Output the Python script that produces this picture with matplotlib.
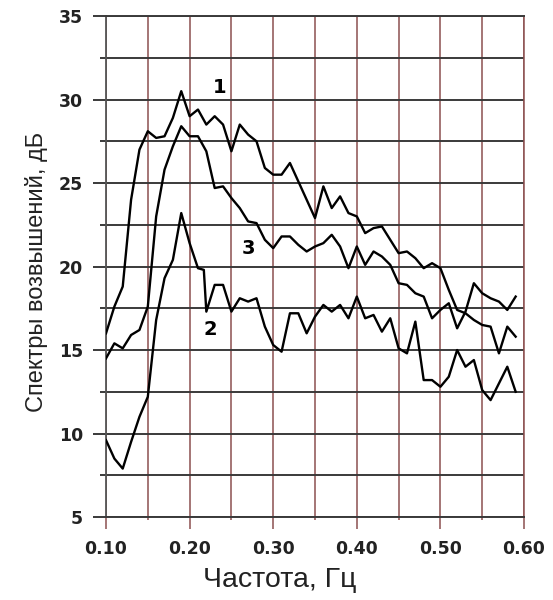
import matplotlib.pyplot as plt
from matplotlib.ticker import MultipleLocator, FixedLocator

# frequencies, Hz
freq = [0.10, 0.11, 0.12, 0.13, 0.14, 0.15, 0.16, 0.17, 0.18, 0.19,
        0.20, 0.21, 0.22, 0.23, 0.24, 0.25, 0.26, 0.27, 0.28, 0.29,
        0.30, 0.31, 0.32, 0.33, 0.34, 0.35, 0.36, 0.37, 0.38, 0.39,
        0.40, 0.41, 0.42, 0.43, 0.44, 0.45, 0.46, 0.47, 0.48, 0.49,
        0.50, 0.51, 0.52, 0.53, 0.54, 0.55, 0.56, 0.57, 0.58, 0.59]

# curve 1 (top)
spec1 = [16.0, 17.6, 18.8, 24.0, 27.0, 28.1, 27.7, 27.8, 28.9, 30.5,
         29.0, 29.4, 28.5, 29.0, 28.5, 26.9, 28.5, 27.9, 27.5, 25.9,
         25.5, 25.5, 26.2, 25.1, 24.0, 22.9, 24.8, 23.5, 24.2, 23.2,
         23.0, 22.0, 22.3, 22.4, 21.6, 20.8, 20.9, 20.5, 19.9, 20.2,
         19.9, 18.6, 17.4, 17.2, 16.8, 16.5, 16.4, 14.8, 16.4, 15.8]

# curve 3 (middle)
spec3 = [14.5, 15.4, 15.1, 15.9, 16.2, 17.6, 23.0, 25.8, 27.2, 28.4,
         27.8, 27.8, 26.9, 24.7, 24.8, 24.1, 23.5, 22.7, 22.6, 21.6,
         21.1, 21.8, 21.8, 21.3, 20.9, 21.2, 21.4, 21.9, 21.2, 19.9,
         21.2, 20.1, 20.9, 20.6, 20.1, 19.0, 18.9, 18.4, 18.2, 16.9,
         17.4, 17.8, 16.3, 17.3, 19.0, 18.4, 18.1, 17.9, 17.4, 18.2]

# curve 2 (bottom), has one extra point before the drop near 0.22
freq2 = [0.10, 0.11, 0.12, 0.13, 0.14, 0.15, 0.16, 0.17, 0.18, 0.19,
         0.20, 0.21, 0.217, 0.22, 0.23, 0.24, 0.25, 0.26, 0.27, 0.28, 0.29,
         0.30, 0.31, 0.32, 0.33, 0.34, 0.35, 0.36, 0.37, 0.38, 0.39,
         0.40, 0.41, 0.42, 0.43, 0.44, 0.45, 0.46, 0.47, 0.48, 0.49,
         0.50, 0.51, 0.52, 0.53, 0.54, 0.55, 0.56, 0.57, 0.58, 0.59]
spec2 = [9.6, 8.5, 7.9, 9.5, 11.0, 12.2, 16.8, 19.3, 20.4, 23.2,
         21.4, 19.9, 19.8, 17.3, 18.9, 18.9, 17.3, 18.1, 17.9, 18.1, 16.4,
         15.3, 14.9, 17.2, 17.2, 16.0, 17.0, 17.7, 17.3, 17.7, 16.9,
         18.2, 16.9, 17.1, 16.1, 16.9, 15.1, 14.8, 16.7, 13.2, 13.2,
         12.8, 13.4, 15.0, 14.0, 14.4, 12.6, 12.0, 13.0, 14.0, 12.5]

xticks = [0.10, 0.20, 0.30, 0.40, 0.50, 0.60]
xtick_labels = ['0.10', '0.20', '0.30', '0.40', '0.50', '0.60']
yticks = [5, 10, 15, 20, 25, 30, 35]

grid_red = '#8c4f4f'
grid_dark = '#3a3a3a'

fig = plt.figure(figsize=(5.53, 6.0), dpi=100)
ax = fig.add_axes([0.1917, 0.1383, 0.7559, 0.835])

ax.plot(freq, spec1, color='black', lw=1.7, zorder=3)
ax.plot(freq, spec3, color='black', lw=1.7, zorder=3)
ax.plot(freq2, spec2, color='black', lw=1.7, zorder=3)

ax.set_xlim(0.10, 0.60)
ax.set_ylim(5, 35)

ax.xaxis.set_major_locator(FixedLocator(xticks))
ax.xaxis.set_minor_locator(FixedLocator([0.15, 0.25, 0.35, 0.45, 0.55]))
ax.set_xticklabels(xtick_labels)
ax.yaxis.set_major_locator(FixedLocator(yticks))
ax.yaxis.set_minor_locator(MultipleLocator(5, offset=2.5))

# grid: dark horizontals, brownish-red verticals
ax.grid(True, which='both', axis='y', color=grid_dark, lw=1.4, zorder=1)
ax.grid(True, which='both', axis='x', color=grid_red, lw=1.1, zorder=1)
ax.set_axisbelow(True)

for side in ['top', 'bottom']:
    ax.spines[side].set_color(grid_dark)
    ax.spines[side].set_linewidth(1.4)
ax.spines['right'].set_color(grid_red)
ax.spines['right'].set_linewidth(1.1)
ax.spines['left'].set_color('#555555')
ax.spines['left'].set_linewidth(1.3)

ax.tick_params(axis='y', which='major', length=9.5, width=1.4, color=grid_dark, pad=7)
ax.tick_params(axis='y', which='minor', length=4.5, width=1.4, color=grid_dark)
ax.tick_params(axis='x', which='major', length=8.5, width=1.1, color=grid_red, pad=8)
ax.tick_params(axis='x', which='minor', length=2.5, width=1.1, color=grid_red)

for lab in ax.get_xticklabels() + ax.get_yticklabels():
    lab.set_fontweight('bold')
    lab.set_fontsize(12.5)
    lab.set_color('#222222')

ax.set_xlabel('Частота, Гц', fontsize=20.5, family='Liberation Sans', color='#222222')
ax.xaxis.set_label_coords(0.416, -0.100)
ax.set_ylabel('Спектры возвышений, дБ', fontsize=17, family='Liberation Sans', color='#222222')
ax.yaxis.set_label_coords(-0.139, 0.49)

# curve numbers
ax.text(0.2356, 30.7, '1', fontsize=14, fontweight='bold', ha='center', va='center', zorder=4)
ax.text(0.270, 21.1, '3', fontsize=14, fontweight='bold', ha='center', va='center', zorder=4)
ax.text(0.2244, 16.2, '2', fontsize=14, fontweight='bold', ha='center', va='center', zorder=4)

fig.savefig('out.png', dpi=100)
